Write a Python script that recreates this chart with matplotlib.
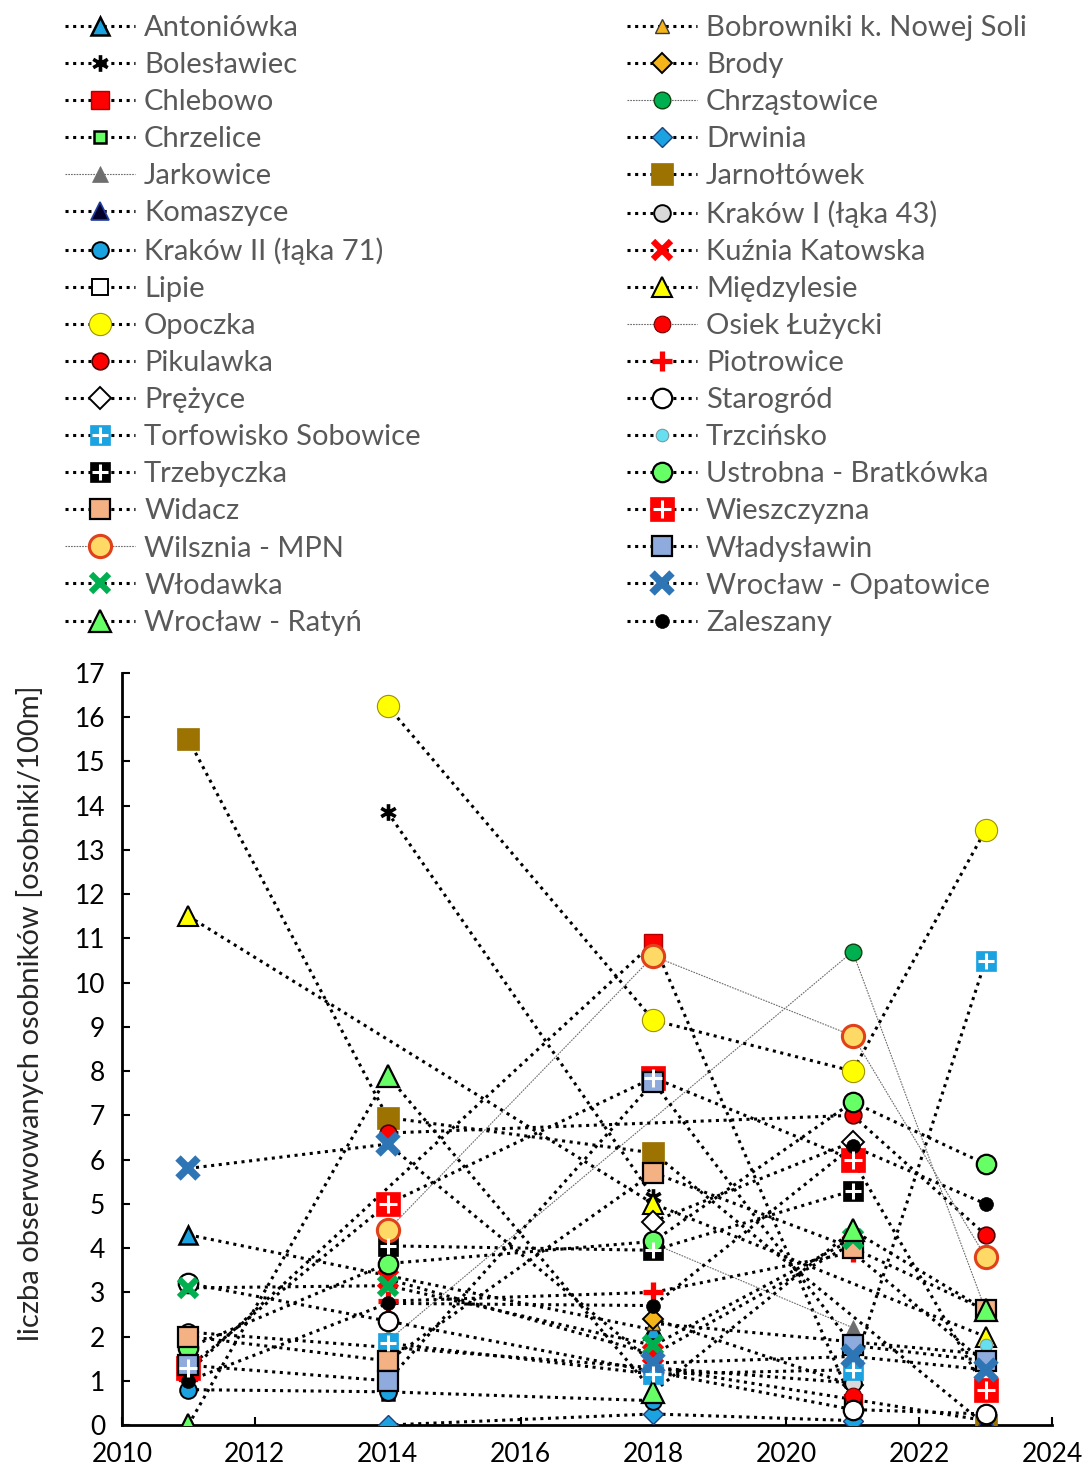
import numpy as np
import matplotlib
matplotlib.use('Agg')
import matplotlib.pyplot as plt
from matplotlib.path import Path
from matplotlib.legend_handler import HandlerTuple

plt.rcParams['font.family'] = ['Lato', 'DejaVu Sans']

nan = np.nan
YEARS = [2011, 2014, 2018, 2021, 2023]

# ── Data (osobniki/100m), columns follow YEARS ─────────────────────────────
antoniowka   = [4.3, nan, 2.15, nan, nan]
bobrowniki   = [nan, nan, 2.3, nan, 1.6]
boleslawiec  = [nan, 13.85, 5.15, nan, nan]
brody        = [nan, nan, 2.4, 0.9, nan]
chlebowo     = [1.2, nan, 10.9, 0.5, nan]
chrzastowice = [nan, 1.9, nan, 10.7, 2.6]
chrzelice    = [nan, 0.7, nan, nan, nan]
drwinia      = [nan, 0.0, 0.25, 0.1, nan]
jarkowice    = [nan, nan, 4.1, 2.2, nan]
jarnoltowek  = [15.5, 6.95, 6.15, nan, 0.0]
komaszyce    = [nan, nan, 1.3, nan, 0.1]
krakow1      = [2.1, nan, nan, 0.95, nan]
krakow2      = [0.8, 0.75, 0.55, nan, nan]
kuznia       = [nan, 3.3, 1.6, 4.1, nan]
lipie        = [nan, nan, nan, 0.4, nan]
miedzylesie  = [11.5, nan, 5.0, nan, 2.0]
opoczka      = [nan, 16.25, 9.15, 8.0, 13.45]
osiek        = [nan, nan, nan, 0.65, nan]
pikulawka    = [nan, 6.6, nan, 7.0, 4.3]
piotrowice   = [nan, 2.8, 3.0, 3.9, 1.4]
prezyce      = [nan, nan, 4.6, 6.4, nan]
starogrod    = [3.2, 2.35, nan, 0.35, 0.25]
torfowisko   = [nan, 1.85, 1.15, 1.25, 10.5]
trzcinsko    = [nan, nan, nan, nan, 1.8]
trzebyczka   = [nan, 4.05, 3.95, 5.3, nan]
ustrobna     = [1.75, 3.65, 4.15, 7.3, 5.9]
widacz       = [2.0, 1.45, 5.7, 4.0, 2.6]
wieszczyzna  = [1.3, 5.0, 7.85, 6.0, 0.8]
wilsznia     = [nan, 4.4, 10.6, 8.8, 3.8]
wladyslawin  = [1.35, 1.0, 7.75, 1.8, 1.45]
wlodawka     = [3.1, 3.15, 1.8, 4.2, nan]
opatowice    = [5.8, 6.35, 1.4, 1.55, 1.25]
ratyn        = [0.0, 7.9, 0.75, 4.4, 2.6]
zaleszany    = [1.0, 2.75, 2.7, 6.3, 5.0]

# asterisk marker like Excel's "*"
ASTER = Path([(0, -1), (0, 1), (-0.87, -0.5), (0.87, 0.5), (-0.87, 0.5), (0.87, -0.5)],
             [Path.MOVETO, Path.LINETO, Path.MOVETO, Path.LINETO, Path.MOVETO, Path.LINETO])

BLUE = '#1aa3e0'
GOLD = '#f4b41a'

# name, values, marker, size, face, edge, edge width, thin line, white plus overlay
SERIES = [
    ('Antoniówka', antoniowka, '^', 13, BLUE, 'black', 1.8, False, False),
    ('Bobrowniki k. Nowej Soli', bobrowniki, '^', 10, GOLD, '#3a3a3a', 1.0, False, False),
    ('Bolesławiec', boleslawiec, ASTER, 12, 'none', 'black', 2.6, False, False),
    ('Brody', brody, 'D', 10, GOLD, 'black', 1.4, False, False),
    ('Chlebowo', chlebowo, 's', 13, '#ff0000', '#b00000', 1.0, False, False),
    ('Chrząstowice', chrzastowice, 'o', 12, '#00b050', '#104010', 1.0, True, False),
    ('Chrzelice', chrzelice, 's', 9, '#66ff66', 'black', 1.8, False, False),
    ('Drwinia', drwinia, 'D', 10, BLUE, '#1f3f7f', 1.0, False, False),
    ('Jarkowice', jarkowice, '^', 12, '#6e6e6e', '#6e6e6e', 0.5, True, False),
    ('Jarnołtówek', jarnoltowek, 's', 16, '#9c7300', '#9c7300', 0.5, False, False),
    ('Komaszyce', komaszyce, '^', 13, '#00002a', '#1f3f9f', 1.2, False, False),
    ('Kraków I (łąka 43)', krakow1, 'o', 12, '#d9d9d9', 'black', 1.4, False, False),
    ('Kraków II (łąka 71)', krakow2, 'o', 12, BLUE, 'black', 1.4, False, False),
    ('Kuźnia Katowska', kuznia, 'x', 13, 'none', '#ff0000', 4.5, False, False),
    ('Lipie', lipie, 's', 12, 'white', 'black', 1.4, False, False),
    ('Międzylesie', miedzylesie, '^', 15, '#ffff00', 'black', 1.5, False, False),
    ('Opoczka', opoczka, 'o', 16, '#ffff00', '#a09000', 0.8, False, False),
    ('Osiek Łużycki', osiek, 'o', 12, '#ff0000', '#700000', 0.8, True, False),
    ('Pikulawka', pikulawka, 'o', 12, '#ff0000', '#500000', 1.2, False, False),
    ('Piotrowice', piotrowice, '+', 15, 'none', '#ff0000', 3.8, False, False),
    ('Prężyce', prezyce, 'D', 11, 'white', 'black', 1.4, False, False),
    ('Starogród', starogrod, 'o', 14, 'white', 'black', 1.6, False, False),
    ('Torfowisko Sobowice', torfowisko, 's', 15, BLUE, BLUE, 0.5, False, True),
    ('Trzcińsko', trzcinsko, 'o', 9, '#66e0f0', '#7a9aa0', 0.8, False, False),
    ('Trzebyczka', trzebyczka, 's', 15, 'black', 'black', 0.5, False, True),
    ('Ustrobna - Bratkówka', ustrobna, 'o', 14, '#66ff66', 'black', 1.6, False, False),
    ('Widacz', widacz, 's', 15, '#f4b183', 'black', 1.6, False, False),
    ('Wieszczyzna', wieszczyzna, 's', 17, '#ff0000', '#ff0000', 0.5, False, True),
    ('Wilsznia - MPN', wilsznia, 'o', 16, '#ffd966', '#e0401a', 2.2, True, False),
    ('Władysławin', wladyslawin, 's', 15, '#8faadc', 'black', 1.6, False, False),
    ('Włodawka', wlodawka, 'x', 13, 'none', '#00b050', 4.5, False, False),
    ('Wrocław - Opatowice', opatowice, 'x', 15, 'none', '#2e75b6', 5.5, False, False),
    ('Wrocław - Ratyń', ratyn, '^', 16, '#66ff66', 'black', 1.6, False, False),
    ('Zaleszany', zaleszany, 'o', 10, 'black', 'black', 0.5, False, False),
]

fig = plt.figure(figsize=(10.89, 14.79), dpi=100)
ax = fig.add_axes([0.112, 0.0365, 0.854, 0.5085])

DOT = (0, (1, 1.5))
handles, labels = [], []
for name, vals, mk, ms, fc, ec, mew, thin, plus in SERIES:
    v = np.array(vals, dtype=float)
    x = np.array(YEARS)[~np.isnan(v)]
    y = v[~np.isnan(v)]
    if thin:
        ls, lw, lc = (0, (1.5, 1)), 0.8, '#6a6a6a'
    else:
        ls, lw, lc = DOT, 2.2, 'black'
    if mk in ('x', '+', ASTER):
        kw = dict(markeredgecolor=ec, markerfacecolor='none')
    else:
        kw = dict(markeredgecolor=ec, markerfacecolor=fc)
    ax.plot(x, y, linestyle=ls, lw=lw, color=lc, zorder=2)
    ax.plot(x, y, linestyle='none', marker=mk, ms=ms, mew=mew, zorder=3, **kw)
    h_leg = plt.Line2D([], [], linestyle=ls, lw=lw, color=lc, marker=mk, ms=ms,
                       mew=mew, **kw)
    if plus:
        ax.plot(x, y, linestyle='none', marker='+', ms=ms * 0.8, mew=2.2,
                markeredgecolor='white', zorder=3.1)
        hp = plt.Line2D([], [], linestyle='none', marker='+', ms=ms * 0.8, mew=2.2,
                        markeredgecolor='white')
        handles.append((h_leg, hp))
    else:
        handles.append(h_leg)
    labels.append(name)

ax.set_xlim(2010, 2024)
ax.set_ylim(0, 17)
ax.set_xticks(range(2010, 2025, 2))
ax.set_yticks(range(0, 18))
ax.tick_params(direction='in', length=6, width=1.5, labelsize=19, colors='black')
ax.tick_params(axis='x', pad=12)
ax.tick_params(axis='y', pad=12)
for s in ['top', 'right']:
    ax.spines[s].set_visible(False)
for s in ['left', 'bottom']:
    ax.spines[s].set_linewidth(2)
ax.set_ylabel('liczba obserwowanych osobników [osobniki/100m]', fontsize=21,
              color='#262626')
ax.yaxis.set_label_coords(-0.084, 0.547)

# ── Legend: two columns, row-wise alphabetical ─────────────────────────────
leg_kw = dict(loc='upper left', frameon=False, fontsize=21, labelcolor='#595959',
              handlelength=2.4, handletextpad=0.3, labelspacing=0.38,
              borderpad=0, borderaxespad=0,
              handler_map={tuple: HandlerTuple(ndivide=1)})
leg1 = fig.legend(handles[0::2], labels[0::2], bbox_to_anchor=(0.06, 0.990), **leg_kw)
leg2 = fig.legend(handles[1::2], labels[1::2], bbox_to_anchor=(0.576, 0.990), **leg_kw)

fig.savefig('out.png', dpi=100, facecolor='white')
